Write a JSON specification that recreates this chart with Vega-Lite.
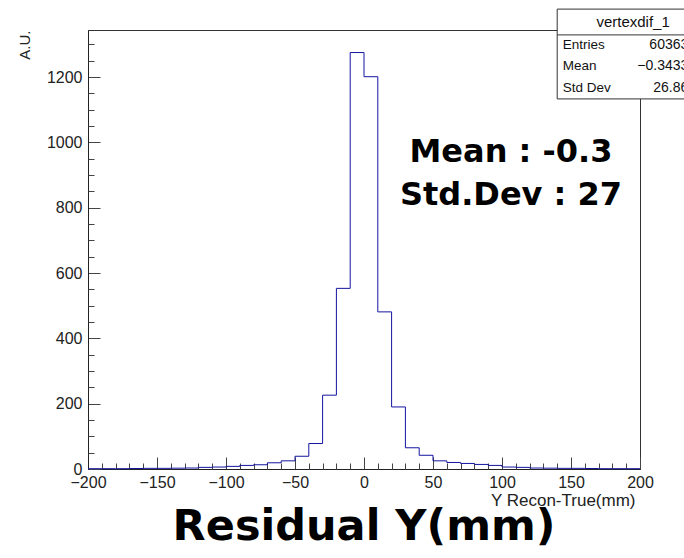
{
  "$schema": "https://vega.github.io/schema/vega-lite/v6.json",
  "width": 552,
  "height": 439,
  "autosize": {"type": "none"},
  "padding": {"left": 88, "top": 30, "right": 44, "bottom": 89},
  "background": "white",
  "config": {
    "view": {"stroke": "#333", "strokeWidth": 1},
    "axis": {
      "grid": false,
      "domainColor": "#222",
      "tickColor": "#444",
      "labelColor": "#222",
      "titleColor": "#222",
      "labelFont": "Liberation Sans",
      "titleFont": "Liberation Sans",
      "labelFontSize": 16,
      "titleFontWeight": "normal",
      "labelFlush": false,
      "labelOverlap": false
    }
  },
  "title": {
    "text": "Residual Y(mm)",
    "orient": "bottom",
    "anchor": "middle",
    "font": "DejaVu Sans",
    "fontWeight": "bold",
    "fontSize": 43,
    "color": "black",
    "baseline": "alphabetic",
    "offset": 32
  },
  "datasets": {
    "hist": [
      {"x": -200, "y": 1}, {"x": -190, "y": 1}, {"x": -180, "y": 1}, {"x": -170, "y": 1.5},
      {"x": -160, "y": 2}, {"x": -150, "y": 2}, {"x": -140, "y": 2.5}, {"x": -130, "y": 3},
      {"x": -120, "y": 5}, {"x": -110, "y": 6}, {"x": -100, "y": 8}, {"x": -90, "y": 11},
      {"x": -80, "y": 13}, {"x": -70, "y": 19}, {"x": -60, "y": 25}, {"x": -50, "y": 39},
      {"x": -40, "y": 78}, {"x": -30, "y": 226}, {"x": -20, "y": 553}, {"x": -10, "y": 1275},
      {"x": 0, "y": 1201}, {"x": 10, "y": 481}, {"x": 20, "y": 190}, {"x": 30, "y": 65},
      {"x": 40, "y": 42}, {"x": 50, "y": 25}, {"x": 60, "y": 20}, {"x": 70, "y": 17},
      {"x": 80, "y": 14}, {"x": 90, "y": 11}, {"x": 100, "y": 6}, {"x": 110, "y": 5},
      {"x": 120, "y": 3}, {"x": 130, "y": 2.5}, {"x": 140, "y": 2}, {"x": 150, "y": 2},
      {"x": 160, "y": 1.5}, {"x": 170, "y": 1}, {"x": 180, "y": 1}, {"x": 190, "y": 1},
      {"x": 200, "y": 1}
    ],
    "annot": [
      {"x": 106.5, "y": 940, "label": "Mean : -0.3"},
      {"x": 106.5, "y": 808, "label": "Std.Dev : 27"}
    ],
    "box": [
      {"x1": 140, "x2": 245, "y1": 1133, "y2": 1408}
    ],
    "sep": [
      {"x1": 140, "x2": 245, "y": 1329}
    ],
    "header": [
      {"x": 195, "y": 1368, "label": "vertexdif_1"}
    ],
    "stats": [
      {"x1": 144, "x2": 235, "y": 1298, "name": "Entries", "value": "60363"},
      {"x1": 144, "x2": 235, "y": 1234, "name": "Mean", "value": "−0.3433"},
      {"x1": 144, "x2": 235, "y": 1166, "name": "Std Dev", "value": "26.86"}
    ]
  },
  "layer": [
    {
      "data": {"name": "hist"},
      "mark": {"type": "line", "interpolate": "step-after", "color": "#1414a0", "strokeWidth": 1},
      "encoding": {
        "x": {
          "field": "x", "type": "quantitative",
          "scale": {"domain": [-200, 200], "nice": false, "zero": false},
          "axis": {
            "orient": "bottom",
            "values": [-200, -150, -100, -50, 0, 50, 100, 150, 200],
            "format": "d",
            "tickSize": -12,
            "labelPadding": 17,
            "title": "Y Recon-True(mm)",
            "titleFontSize": 17,
            "titleAlign": "right",
            "titleAnchor": "end",
            "titleX": 547,
            "titleY": 31,
            "titleBaseline": "middle"
          }
        },
        "y": {
          "field": "y", "type": "quantitative",
          "scale": {"domain": [0, 1344], "nice": false},
          "axis": {
            "values": [0, 200, 400, 600, 800, 1000, 1200],
            "format": "d",
            "tickSize": -12,
            "labelPadding": 18,
            "title": "A.U.",
            "titleFontSize": 15,
            "titleAngle": -90,
            "titleAlign": "right",
            "titleX": -64,
            "titleY": 0,
            "titleBaseline": "middle"
          }
        }
      }
    },
    {
      "data": {"name": "hist"},
      "mark": {"type": "line", "opacity": 0},
      "encoding": {
        "x": {
          "field": "x", "type": "quantitative",
          "axis": {
            "orient": "bottom",
            "values": [-190, -180, -170, -160, -140, -130, -120, -110, -90, -80, -70, -60, -40, -30, -20, -10, 10, 20, 30, 40, 60, 70, 80, 90, 110, 120, 130, 140, 160, 170, 180, 190],
            "tickSize": -6,
            "labels": false,
            "domain": false,
            "title": null
          }
        },
        "y": {
          "field": "y", "type": "quantitative",
          "axis": {
            "orient": "left",
            "values": [50, 100, 150, 250, 300, 350, 450, 500, 550, 650, 700, 750, 850, 900, 950, 1050, 1100, 1150, 1250, 1300],
            "tickSize": -6,
            "labels": false,
            "domain": false,
            "title": null
          }
        }
      }
    },
    {
      "data": {"name": "annot"},
      "mark": {"type": "text", "font": "DejaVu Sans", "fontWeight": "bold", "fontSize": 32, "align": "center", "baseline": "alphabetic", "color": "black"},
      "encoding": {
        "x": {"field": "x", "type": "quantitative", "axis": null},
        "y": {"field": "y", "type": "quantitative", "axis": null},
        "text": {"field": "label"}
      }
    },
    {
      "data": {"name": "box"},
      "mark": {"type": "rect", "fill": "white", "stroke": "#333", "strokeWidth": 1, "clip": false},
      "encoding": {
        "x": {"field": "x1", "type": "quantitative", "axis": null},
        "x2": {"field": "x2"},
        "y": {"field": "y1", "type": "quantitative", "axis": null},
        "y2": {"field": "y2"}
      }
    },
    {
      "data": {"name": "sep"},
      "mark": {"type": "rule", "stroke": "#333", "strokeWidth": 1},
      "encoding": {
        "x": {"field": "x1", "type": "quantitative", "axis": null},
        "x2": {"field": "x2"},
        "y": {"field": "y", "type": "quantitative", "axis": null}
      }
    },
    {
      "data": {"name": "header"},
      "mark": {"type": "text", "font": "Liberation Sans", "fontSize": 15, "align": "center", "baseline": "middle", "color": "#111"},
      "encoding": {
        "x": {"field": "x", "type": "quantitative", "axis": null},
        "y": {"field": "y", "type": "quantitative", "axis": null},
        "text": {"field": "label"}
      }
    },
    {
      "data": {"name": "stats"},
      "mark": {"type": "text", "font": "Liberation Sans", "fontSize": 13.5, "align": "left", "baseline": "middle", "color": "#111"},
      "encoding": {
        "x": {"field": "x1", "type": "quantitative", "axis": null},
        "y": {"field": "y", "type": "quantitative", "axis": null},
        "text": {"field": "name"}
      }
    },
    {
      "data": {"name": "stats"},
      "mark": {"type": "text", "font": "Liberation Sans", "fontSize": 14, "align": "right", "baseline": "middle", "color": "#111"},
      "encoding": {
        "x": {"field": "x2", "type": "quantitative", "axis": null},
        "y": {"field": "y", "type": "quantitative", "axis": null},
        "text": {"field": "value"}
      }
    }
  ],
  "resolve": {"axis": {"x": "independent", "y": "independent"}}
}
